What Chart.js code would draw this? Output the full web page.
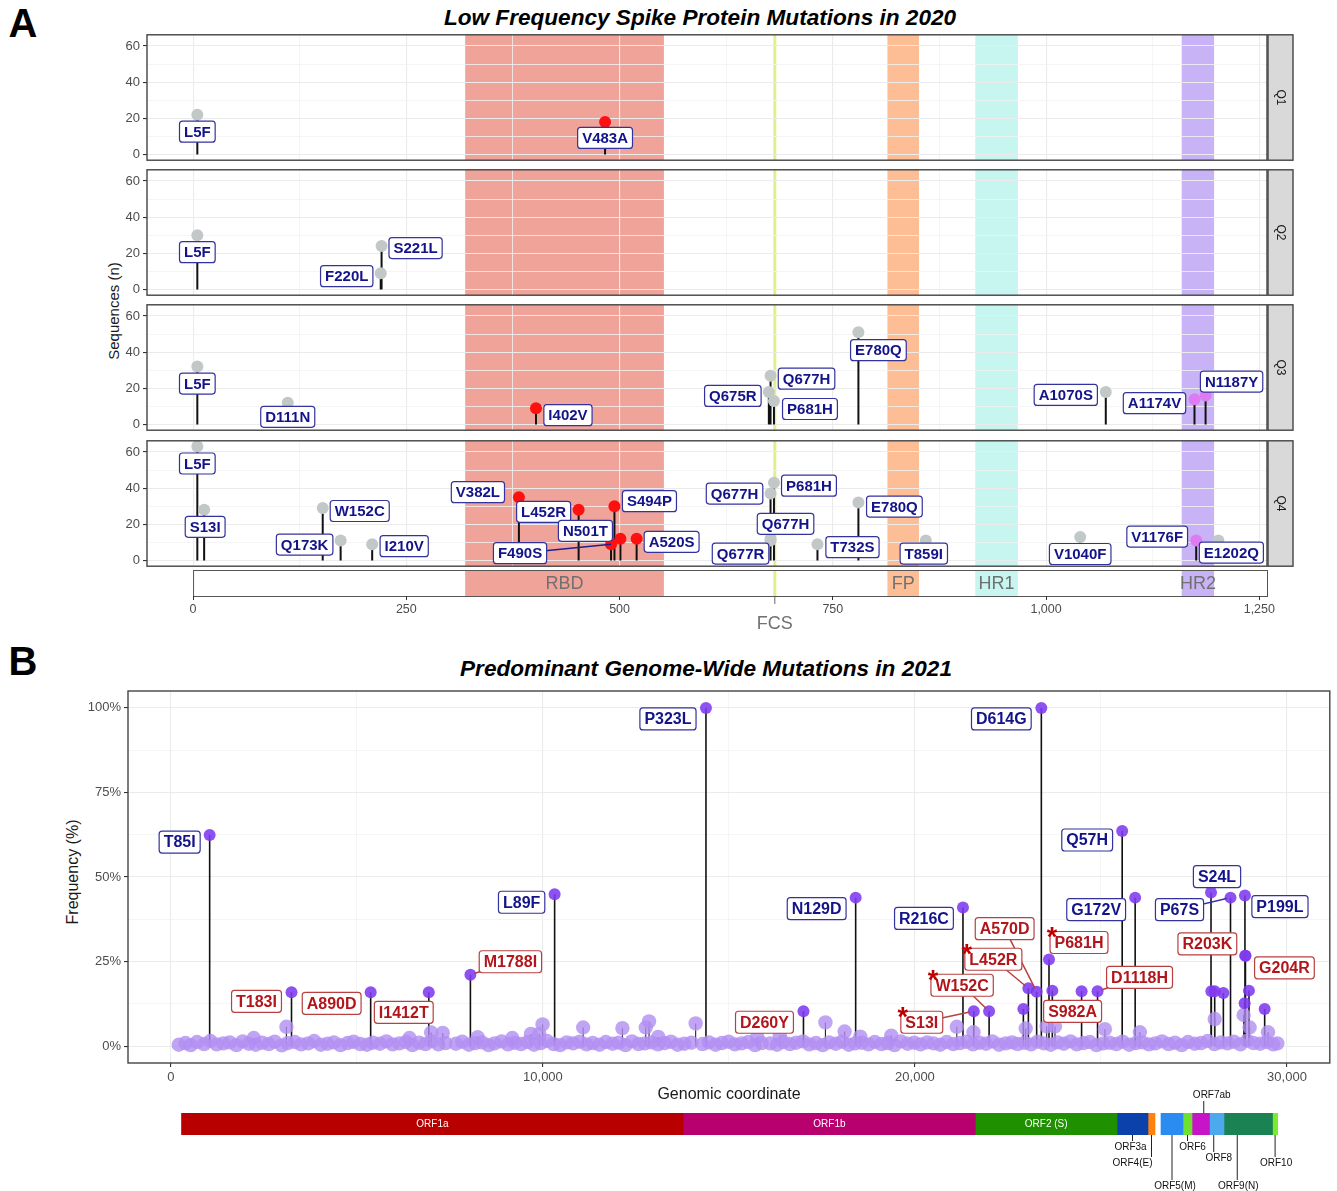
<!DOCTYPE html>
<html>
<head>
<meta charset="utf-8">
<title>Spike and genome-wide mutations</title>
<script src="https://cdn.jsdelivr.net/npm/chart.js@4.4.1/dist/chart.umd.min.js"></script>
<style>
  html, body { margin: 0; padding: 0; background: #fff; overflow: hidden; }
  #fig { position: relative; width: 1337px; height: 1191px; background: #fff;
         font-family: "Liberation Sans", Arial, Helvetica, sans-serif; }
  #fig canvas { position: absolute; }
  .txt { position: absolute; white-space: nowrap; color: #1a1a1a; transform: translate(-50%, -50%); line-height: 1; }
  .rot { transform: translate(-50%, -50%) rotate(-90deg); }
  .letter { font-size: 40px; font-weight: bold; color: #000; }
  .ptitle { font-size: 22.6px; font-weight: bold; font-style: italic; color: #000; }
  .atitle { font-size: 15px; color: #1a1a1a; }
</style>
</head>
<body>
<div id="fig">
  <div class="txt letter" style="left:23px; top:23px;">A</div>
  <div class="txt ptitle" style="left:700px; top:18px;">Low Frequency Spike Protein Mutations in 2020</div>
  <div class="txt atitle rot" style="left:113px; top:311px;">Sequences (n)</div>

  <canvas id="q1" width="1200" height="147" style="left:100px; top:24px;"></canvas>
  <canvas id="q2" width="1200" height="147" style="left:100px; top:159px;"></canvas>
  <canvas id="q3" width="1200" height="147" style="left:100px; top:294px;"></canvas>
  <canvas id="q4" width="1200" height="147" style="left:100px; top:430px;"></canvas>
  <canvas id="domains" width="1200" height="80" style="left:100px; top:560px;"></canvas>

  <div class="txt letter" style="left:23px; top:661px;">B</div>
  <div class="txt ptitle" style="left:706px; top:669px;">Predominant Genome-Wide Mutations in 2021</div>
  <div class="txt atitle rot" style="left:73px; top:872px; font-size:16px;">Frequency (%)</div>
  <canvas id="genome" width="1337" height="410" style="left:0px; top:680px;"></canvas>
  <div class="txt atitle" style="left:729px; top:1094px; font-size:16px;">Genomic coordinate</div>
  <canvas id="orfs" width="1337" height="106" style="left:0px; top:1085px;"></canvas>
</div>

<script>
// ---------------------------------------------------------------
// Panel A: low-frequency spike mutations per quarter of 2020
// (residue position, number of sequences)
// ---------------------------------------------------------------
const quarters = ['Q1', 'Q2', 'Q3', 'Q4'];

const q1Mut   = ['L5F', 'V483A'];
const q1Pos   = [5, 483];
const q1Count = [22, 18];

const q2Mut   = ['L5F', 'F220L', 'S221L'];
const q2Pos   = [5, 220, 221];
const q2Count = [30, 9, 24];

const q3Mut   = ['L5F', 'D111N', 'I402V', 'Q675R', 'Q677H', 'P681H', 'E780Q', 'A1070S', 'A1174V', 'N1187Y'];
const q3Pos   = [5, 111, 402, 675, 677, 681, 780, 1070, 1174, 1187];
const q3Count = [32, 12, 9, 18, 27, 13, 51, 18, 14, 16];

const q4Mut   = ['L5F', 'S13I', 'W152C', 'Q173K', 'I210V', 'V382L', 'L452R', 'F490S', 'S494P', 'N501T', 'A520S',
                 'Q677H', 'Q677H', 'Q677R', 'P681H', 'T732S', 'E780Q', 'T859I', 'V1040F', 'V1176F', 'E1202Q'];
const q4Pos   = [5, 13, 152, 173, 210, 382, 452, 490, 494, 501, 520,
                 677, 677, 677, 681, 732, 780, 859, 1040, 1176, 1202];
const q4Count = [63, 28, 29, 11, 9, 35, 28, 9, 30, 12, 12,
                 37, 12, 11, 43, 9, 32, 11, 13, 11, 11];

// spike protein domains (residue ranges)
const domainNames = ['RBD', 'FCS', 'FP', 'HR1', 'HR2'];
const domainStart = [319, 681, 814, 917, 1159];
const domainEnd   = [552, 683, 851, 967, 1197];

// axis ticks
const spikeTicks = [0, 250, 500, 750, 1000, 1250];
const countTicks = [0, 20, 40, 60];

// ---------------------------------------------------------------
// Panel B: predominant genome-wide mutations in 2021
// (genomic coordinate, frequency in %)
// ---------------------------------------------------------------
const genomeMut  = ['T85I', 'T183I', 'A890D', 'I1412T', 'M1788I', 'L89F', 'P323L', 'D260Y', 'N129D', 'R216C',
                    'S13I', 'W152C', 'L452R', 'A570D', 'D614G', 'P681H', 'S982A', 'D1118H', 'Q57H', 'G172V',
                    'S24L', 'P67S', 'P199L', 'R203K', 'G204R'];
const genomePos  = [1041, 3241, 5369, 6931, 8050, 10314, 14382, 17003, 18406, 21290,
                    21581, 21993, 23048, 23271, 23397, 23603, 24479, 24908, 25570, 25919,
                    27958, 28482, 28870, 28881, 28883];
const genomeFreq = [62.4, 15.9, 15.9, 15.9, 21.1, 44.9, 100, 10.3, 43.9, 41.0,
                    10.3, 10.3, 17.1, 16.1, 100, 25.6, 16.2, 16.2, 63.6, 43.9,
                    45.4, 43.9, 44.5, 26.7, 26.7];
// 'known' = established lineage mutations, 'new' = newly emerging
const genomeKind = ['known', 'new', 'new', 'new', 'new', 'known', 'known', 'new', 'known', 'known',
                    'new', 'new', 'new', 'new', 'known', 'new', 'new', 'new', 'known', 'known',
                    'known', 'known', 'known', 'new', 'new'];
// spike mutations of interest (starred)
const starred = ['S13I', 'W152C', 'L452R', 'P681H'];

// other frequent, unlabelled mutations
const otherPos  = [22914, 23692, 27967, 28057, 28290, 28862, 28978, 29400];
const otherFreq = [11.0, 16.4, 16.2, 16.2, 15.7, 12.7, 16.4, 11.0];

// low-frequency mutations rising above the background
const lowPos  = [2227, 3104, 6413, 6994, 7306, 8246, 9176, 9677, 9900, 9990, 11081, 12136, 12763, 12852, 13100,
                 14105, 15760, 16367, 17593, 18110, 18530, 19363, 21125, 21573, 22977, 23540, 23764, 25106, 26045,
                 28057, 28835, 28996, 29490];
const lowFreq = [2.4, 5.7, 2.4, 4.0, 3.9, 2.6, 2.4, 3.6, 3.6, 6.4, 5.5, 5.3, 5.5, 7.3, 2.7,
                 6.7, 2.7, 3.1, 7.0, 4.3, 2.8, 3.1, 5.7, 4.1, 5.2, 5.8, 5.8, 5.0, 4.1,
                 8.0, 9.2, 5.5, 4.1];

// background of rare mutations along the genome
const bgPos = [
  210, 390, 530, 700, 890, 1060, 1230, 1410, 1580, 1760, 1930, 2090, 2280, 2450, 2630, 2790, 2980, 3140, 3330, 3500,
  3690, 3850, 4030, 4210, 4380, 4560, 4750, 4910, 5090, 5270, 5430, 5620, 5790, 5960, 6140, 6320, 6490, 6670, 6840, 7010,
  7190, 7380,
  7660, 7830, 8010, 8180, 8360, 8540, 8700, 8890, 9060, 9240, 9410, 9590, 9760, 9940, 10110, 10290, 10460, 10640, 10810, 10990,
  11170, 11340, 11520, 11690, 11870, 12040, 12220, 12390, 12570, 12740, 12920, 13090, 13270, 13440, 13620, 13800, 13990,
  14290, 14460, 14640, 14810, 14990, 15160, 15340, 15520, 15700, 15880,
  16110, 16290, 16460, 16640, 16810, 16990, 17160, 17340, 17520, 17690, 17870, 18040, 18220, 18390, 18570, 18750, 18920, 19100,
  19270, 19450, 19620, 19800, 19980, 20150, 20330, 20500, 20680, 20850, 21030, 21210, 21380, 21560, 21730, 21910, 22080, 22260,
  22440, 22610, 22760,
  22950, 23120, 23300, 23470, 23650, 23830, 24000, 24180, 24350, 24530, 24700, 24880, 25060, 25230, 25410, 25580, 25760, 25940,
  26110, 26290, 26460, 26640, 26820, 26990, 27170, 27340, 27520, 27690, 27870, 28050, 28220, 28400, 28570, 28750, 28930, 29100,
  29280, 29450, 29630, 29740
];
const bgFreq = [
  0.4, 0.9, 0.3, 1.2, 0.6, 1.5, 0.5, 0.8, 1.1, 0.3, 1.4, 0.7, 0.4, 1.0, 0.6, 1.3, 0.2, 0.9, 1.2, 0.5,
  0.8, 1.5, 0.4, 0.7, 1.1, 0.3, 0.9, 1.3, 0.6, 0.4, 1.0, 0.7, 1.4, 0.5, 0.8, 1.2, 0.3, 1.0, 0.6, 1.4,
  0.5, 0.9,
  0.7, 1.3, 0.4, 0.9, 1.1, 0.3, 0.8, 1.4, 0.5, 1.0, 0.6, 1.2, 0.4, 0.9, 1.5, 0.6, 0.3, 1.1, 0.8, 1.3,
  0.5, 0.9, 0.4, 1.2, 0.7, 1.0, 0.3, 1.4, 0.6, 0.8, 1.1, 0.5, 0.9, 1.3, 0.4, 0.7, 1.0,
  0.6, 1.1, 0.4, 0.9, 1.3, 0.5, 0.8, 1.2, 0.3, 0.9,
  0.8, 0.4, 1.2, 0.6, 1.0, 1.4, 0.5, 0.9, 0.3, 1.1, 0.7, 1.3, 0.4, 0.8, 1.0, 0.5, 1.2, 0.6,
  0.9, 0.3, 1.4, 0.7, 1.0, 0.5, 1.1, 0.8, 0.4, 1.2, 0.6, 0.9, 1.3, 0.5, 1.0, 0.7, 1.4, 0.4,
  0.8, 1.1, 0.6,
  1.0, 0.5, 1.3, 0.8, 0.4, 1.1, 0.7, 1.4, 0.5, 0.9, 1.2, 0.3, 0.8, 1.0, 0.6, 1.3, 0.4, 0.9,
  1.1, 0.5, 0.8, 1.4, 0.6, 1.0, 0.3, 1.2, 0.7, 0.9, 1.5, 0.6, 1.1, 0.8, 1.3, 0.5, 1.6, 0.9,
  0.7, 1.2, 0.5, 0.8
];

const genomeTicks = [0, 10000, 20000, 30000];
const freqTicks   = [0, 25, 50, 75, 100];

// SARS-CoV-2 open reading frames (genomic start / end)
const orfNames = ['ORF1a', 'ORF1b', 'ORF2 (S)', 'ORF3a', 'ORF4(E)', 'ORF5(M)', 'ORF6', 'ORF7ab', 'ORF8', 'ORF9(N)', 'ORF10'];
const orfStart = [282, 13748, 21583, 25382, 26214, 26563, 27153, 27395, 27864, 28253, 29555];
const orfEnd   = [13748, 21583, 25382, 26214, 26402, 27153, 27395, 27864, 28253, 29555, 29694];

// ---------------------------------------------------------------
// styling and label placement
// ---------------------------------------------------------------
const FONT = '"Liberation Sans", Arial, Helvetica, sans-serif';
const NARROW = '"Liberation Sans Narrow", "Arial Narrow", "Liberation Sans", Arial, sans-serif';

const domainColors = ['#F0A399', '#E2F08A', '#FDBE95', '#C7F6F1', '#C8B3F6'];
const orfColors = ['#B80000', '#B8006E', '#1F9100', '#0B41AA', '#FF820F', '#2A8CF0', '#6EE032',
                   '#C814C8', '#4CA9EE', '#1B8254', '#7AEB2A'];
const GRAY_PT = '#C2C8C8', RED_PT = '#FF1010', PINK_PT = '#DF7BF2';

const X_MIN_A = -54, X_MAX_A = 1259;
const Y_MIN_A = -3.15, Y_MAX_A = 66.15;
const X_MIN_B = -1154, X_MAX_B = 31151;
const Y_MIN_B = -5, Y_MAX_B = 105;

// label offsets in pixels from the labelled point: [dx, dy, leader line]
const tagLayoutA = [
  [[0, 17], [0, 16]],
  [[0, 17], [-34, 3], [34, 2]],
  [[0, 17], [0, 14], [32, 7], [-36, 4], [36, 3], [36, 8], [20, 18], [-40, 3], [-40, 4], [26, -14]],
  [[0, 17], [1, 17], [37, 3], [-36, 4], [32, 2], [-41, -5], [-35, 2], [-91, 9, true], [35, -5], [-35, -8], [35, 3],
   [-36, 0], [15, -15], [-30, 13], [35, 3], [35, 3], [36, 4], [-2, 13], [0, 17], [-39, -4], [13, 12]]
];
const tagLayoutB = {
  'T85I': [-30, 7], 'P323L': [-38, 11], 'L89F': [-33, 8], 'N129D': [-39, 11], 'R216C': [-39, 11],
  'D614G': [-40, 11], 'Q57H': [-35, 9], 'G172V': [-39, 12], 'S24L': [6, -16], 'P67S': [-51, 12, true],
  'P199L': [35, 11], 'T183I': [-35, 9], 'A890D': [-39, 11], 'I1412T': [-25, 20], 'M1788I': [40, -13, true],
  'D260Y': [-39, 11], 'S13I': [-52, 11, true], 'W152C': [-27, -26, true], 'L452R': [-35, -29, true],
  'A570D': [-32, -63, true], 'P681H': [30, -17], 'S982A': [-9, 20], 'D1118H': [42, -14, true],
  'R203K': [-38, -12], 'G204R': [39, 12]
};
// ORF labels outside the bar: text offset, text row, leader line end (canvas px)
const orfTagLayout = {
  'ORF3a':   { textDx: -2,  textY: 62,  lineDx: 0,   lineEnd: 56 },
  'ORF4(E)': { textDx: -19, textY: 78,  lineDx: 0,   lineEnd: 72 },
  'ORF5(M)': { textDx: 3,   textY: 101, lineDx: 0,   lineEnd: 95 },
  'ORF6':    { textDx: 5,   textY: 62,  lineDx: 0,   lineEnd: 56 },
  'ORF7ab':  { textDx: 11,  textY: 10,  lineDx: 3,   lineEnd: 16, above: true },
  'ORF8':    { textDx: 2,   textY: 73,  lineDx: -3,  lineEnd: 67 },
  'ORF9(N)': { textDx: -10, textY: 101, lineDx: -11, lineEnd: 95 },
  'ORF10':   { textDx: 1,   textY: 78,  lineDx: 0,   lineEnd: 72 }
};

const tagBlue = { font: 'bold 15px ' + FONT, color: '#13138A', border: '#3333A0', padX: 4.5, h: 21 };
const tagBlueB = { font: 'bold 16px ' + FONT, color: '#13138A', border: '#3333A0', padX: 4.5, h: 22 };
const tagRedB = { font: 'bold 16px ' + FONT, color: '#B2161B', border: '#B94040', padX: 4.5, h: 22 };

Chart.defaults.font.family = FONT;
Chart.defaults.animation = false;
Chart.defaults.plugins.legend.display = false;
Chart.defaults.plugins.tooltip.enabled = false;

// ---------------------------------------------------------------
// helpers
// ---------------------------------------------------------------
function drawTag(ctx, text, cx, cy, st) {
  ctx.save();
  ctx.font = st.font;
  const w = ctx.measureText(text).width + 2 * st.padX;
  const h = st.h;
  const x = cx - w / 2, y = cy - h / 2;
  ctx.beginPath();
  if (ctx.roundRect) ctx.roundRect(x, y, w, h, 3); else ctx.rect(x, y, w, h);
  ctx.fillStyle = '#fff';
  ctx.fill();
  ctx.lineWidth = 1.2;
  ctx.strokeStyle = st.border;
  ctx.stroke();
  ctx.fillStyle = st.color;
  ctx.textAlign = 'center';
  ctx.textBaseline = 'middle';
  ctx.fillText(text, cx, cy + 1);
  ctx.restore();
  return { x, y, w, h };
}

function leader(ctx, x1, y1, x2, y2, color, shorten) {
  const dx = x2 - x1, dy = y2 - y1, len = Math.hypot(dx, dy);
  const k = len > shorten ? (len - shorten) / len : 0;
  ctx.save();
  ctx.strokeStyle = color;
  ctx.lineWidth = 1.5;
  ctx.beginPath();
  ctx.moveTo(x1, y1);
  ctx.lineTo(x1 + dx * k, y1 + dy * k);
  ctx.stroke();
  ctx.restore();
}

function pointColor(p) {
  if (p >= domainStart[0] && p <= domainEnd[0]) return RED_PT;
  if (p >= domainStart[4] && p <= domainEnd[4]) return PINK_PT;
  return GRAY_PT;
}

function stemSeries(pos, val) {
  const out = [];
  pos.forEach((p, i) => { out.push({ x: p, y: 0 }, { x: p, y: val[i] }, { x: p, y: null }); });
  return out;
}

function drawDomainBands(chart, top, bottom) {
  const ctx = chart.ctx, xs = chart.scales.x, a = chart.chartArea;
  ctx.save();
  ctx.beginPath();
  ctx.rect(a.left, top, a.right - a.left, bottom - top);
  ctx.clip();
  domainNames.forEach((n, i) => {
    ctx.fillStyle = domainColors[i];
    const x0 = xs.getPixelForValue(domainStart[i]);
    const x1 = xs.getPixelForValue(domainEnd[i]);
    if (x1 - x0 < 3) {
      const xc = (x0 + x1) / 2;
      ctx.fillRect(xc - 1.5, top, 3, bottom - top);
    } else {
      ctx.fillRect(x0, top, x1 - x0, bottom - top);
    }
  });
  ctx.restore();
}

// ---------------------------------------------------------------
// Panel A facets
// ---------------------------------------------------------------
const facetMut = [q1Mut, q2Mut, q3Mut, q4Mut];
const facetPos = [q1Pos, q2Pos, q3Pos, q4Pos];
const facetCount = [q1Count, q2Count, q3Count, q4Count];

const facetPlugin = {
  id: 'facetDecor',
  beforeDraw(chart) {
    const a = chart.chartArea;
    drawDomainBands(chart, a.top, a.bottom);
  },
  afterDatasetsDraw(chart) {
    const qi = chart.options.plugins.facetDecor.quarter;
    const ctx = chart.ctx, xs = chart.scales.x, ys = chart.scales.y;
    facetMut[qi].forEach((name, i) => {
      const px = xs.getPixelForValue(facetPos[qi][i]);
      const py = ys.getPixelForValue(facetCount[qi][i]);
      const off = tagLayoutA[qi][i];
      const cx = px + off[0], cy = py + off[1];
      if (off[2]) leader(ctx, cx, cy, px, py, '#1E1E90', 0);
    });
    facetMut[qi].forEach((name, i) => {
      const px = xs.getPixelForValue(facetPos[qi][i]);
      const py = ys.getPixelForValue(facetCount[qi][i]);
      const off = tagLayoutA[qi][i];
      drawTag(ctx, name, px + off[0], py + off[1], tagBlue);
    });
  },
  afterDraw(chart) {
    const qi = chart.options.plugins.facetDecor.quarter;
    const ctx = chart.ctx, a = chart.chartArea;
    ctx.save();
    ctx.strokeStyle = '#444';
    ctx.lineWidth = 1.4;
    ctx.strokeRect(a.left, a.top, a.right - a.left, a.bottom - a.top);
    // facet strip
    const sx = a.right + 1, sw = 25;
    ctx.fillStyle = '#D9D9D9';
    ctx.fillRect(sx, a.top, sw, a.bottom - a.top);
    ctx.strokeRect(sx, a.top, sw, a.bottom - a.top);
    ctx.translate(sx + sw / 2, (a.top + a.bottom) / 2);
    ctx.rotate(Math.PI / 2);
    ctx.fillStyle = '#1a1a1a';
    ctx.font = '12px ' + FONT;
    ctx.textAlign = 'center';
    ctx.textBaseline = 'middle';
    ctx.fillText(quarters[qi], 0, 0);
    ctx.restore();
  }
};

function makeFacet(id, qi) {
  const pos = facetPos[qi], cnt = facetCount[qi];
  return new Chart(document.getElementById(id), {
    type: 'scatter',
    data: {
      datasets: [
        { data: pos.map((p, i) => ({ x: p, y: cnt[i] })), pointRadius: 6, pointBorderWidth: 0,
          pointBackgroundColor: pos.map(pointColor), order: 0 },
        { data: stemSeries(pos, cnt), showLine: true, spanGaps: false, borderColor: '#111', borderWidth: 2,
          pointRadius: 0, order: 1 }
      ]
    },
    options: {
      responsive: false, devicePixelRatio: 1, events: [],
      layout: { padding: { left: 0, right: 33, top: 10, bottom: 10 } },
      plugins: { facetDecor: { quarter: qi } },
      scales: {
        x: {
          type: 'linear', min: X_MIN_A, max: X_MAX_A,
          afterBuildTicks: s => {
            const t = [];
            spikeTicks.forEach((v, i) => { t.push({ value: v }); if (i < spikeTicks.length - 1) t.push({ value: (v + spikeTicks[i + 1]) / 2 }); });
            s.ticks = t;
          },
          afterFit: s => { s.height = 0; },
          ticks: { display: false },
          border: { display: false },
          grid: {
            drawTicks: false,
            color: c => (c.tick && spikeTicks.includes(c.tick.value)) ? '#EBEBEB' : '#F3F3F3',
            lineWidth: c => (c.tick && spikeTicks.includes(c.tick.value)) ? 1.1 : 0.8
          }
        },
        y: {
          type: 'linear', min: Y_MIN_A, max: Y_MAX_A,
          afterBuildTicks: s => {
            const t = [];
            countTicks.forEach((v, i) => { t.push({ value: v }); if (i < countTicks.length - 1) t.push({ value: (v + countTicks[i + 1]) / 2 }); });
            s.ticks = t;
          },
          afterFit: s => { s.width = 47; },
          border: { display: false },
          ticks: { color: '#4D4D4D', font: { size: 13 }, padding: 3, autoSkip: false,
                   callback: v => countTicks.includes(v) ? String(v) : '' },
          grid: {
            tickLength: 4,
            color: c => (c.tick && countTicks.includes(c.tick.value)) ? '#EBEBEB' : '#F3F3F3',
            lineWidth: c => (c.tick && countTicks.includes(c.tick.value)) ? 1.1 : 0.8,
            tickColor: c => (c.tick && countTicks.includes(c.tick.value)) ? '#333' : 'rgba(0,0,0,0)'
          }
        }
      }
    },
    plugins: [facetPlugin]
  });
}

makeFacet('q1', 0);
makeFacet('q2', 1);
makeFacet('q3', 2);
makeFacet('q4', 3);

// domain annotation bar with the shared residue axis
const domainPlugin = {
  id: 'domainBar',
  beforeDraw(chart) {
    const ctx = chart.ctx, a = chart.chartArea, xs = chart.scales.x;
    const x0 = xs.getPixelForValue(0);
    ctx.save();
    ctx.fillStyle = '#fff';
    ctx.fillRect(x0, a.top, a.right - x0, a.bottom - a.top);
    ctx.restore();
    drawDomainBands(chart, a.top, a.bottom);
    ctx.save();
    ctx.strokeStyle = '#555';
    ctx.lineWidth = 1;
    ctx.strokeRect(x0 + 0.5, a.top + 0.5, a.right - x0, a.bottom - a.top);
    ctx.fillStyle = '#707070';
    ctx.font = '18px ' + FONT;
    ctx.textAlign = 'center';
    ctx.textBaseline = 'middle';
    domainNames.forEach((n, i) => {
      const xc = xs.getPixelForValue((domainStart[i] + domainEnd[i]) / 2);
      if (n === 'FCS') {
        ctx.strokeStyle = '#666';
        ctx.beginPath();
        ctx.moveTo(xc, a.bottom + 1);
        ctx.lineTo(xc, a.bottom + 8);
        ctx.stroke();
        ctx.fillText(n, xc, a.bottom + 28);
      } else {
        ctx.fillText(n, xc, (a.top + a.bottom) / 2 + 1);
      }
    });
    ctx.restore();
  }
};

new Chart(document.getElementById('domains'), {
  type: 'scatter',
  data: { datasets: [{ data: [] }] },
  options: {
    responsive: false, devicePixelRatio: 1, events: [],
    layout: { padding: { left: 47, right: 33, top: 10, bottom: 0 } },
    scales: {
      x: {
        type: 'linear', min: X_MIN_A, max: X_MAX_A,
        afterBuildTicks: s => { s.ticks = spikeTicks.map(v => ({ value: v })); },
        afterFit: s => { s.height = 44; },
        border: { display: false },
        grid: { drawOnChartArea: false, tickLength: 4, tickColor: '#333' },
        ticks: { color: '#4D4D4D', font: { size: 12.5 }, padding: 2, autoSkip: false, maxRotation: 0,
                 callback: v => v.toLocaleString('en-US') }
      },
      y: { display: false, min: 0, max: 1 }
    }
  },
  plugins: [domainPlugin]
});

// ---------------------------------------------------------------
// Panel B
// ---------------------------------------------------------------
const genomePlugin = {
  id: 'genomeDecor',
  afterDatasetsDraw(chart) {
    const ctx = chart.ctx, xs = chart.scales.x, ys = chart.scales.y;
    const placed = genomeMut.map((name, i) => {
      const px = xs.getPixelForValue(genomePos[i]);
      const py = ys.getPixelForValue(genomeFreq[i]);
      const off = tagLayoutB[name];
      return { name, px, py, cx: px + off[0], cy: py + off[1], line: !!off[2],
               st: genomeKind[i] === 'known' ? tagBlueB : tagRedB };
    });
    placed.forEach(p => { if (p.line) leader(ctx, p.cx, p.cy, p.px, p.py, p.st.border, 4); });
    placed.forEach(p => {
      const box = drawTag(ctx, p.name, p.cx, p.cy, p.st);
      if (starred.includes(p.name)) {
        ctx.save();
        ctx.fillStyle = '#C00000';
        ctx.font = 'bold 27px ' + FONT;
        ctx.textAlign = 'center';
        ctx.textBaseline = 'middle';
        ctx.fillText('*', box.x + 2, box.y + 7);
        ctx.restore();
      }
    });
  },
  afterDraw(chart) {
    const ctx = chart.ctx, a = chart.chartArea;
    ctx.save();
    ctx.strokeStyle = '#444';
    ctx.lineWidth = 1.4;
    ctx.strokeRect(a.left, a.top, a.right - a.left, a.bottom - a.top);
    ctx.restore();
  }
};

const purplePos = genomePos.concat(otherPos);
const purpleFreq = genomeFreq.concat(otherFreq);
const lightPos = bgPos.concat(lowPos);
const lightFreq = bgFreq.concat(lowFreq);
const freqGrid = [0, 12.5, 25, 37.5, 50, 62.5, 75, 87.5, 100];
const genomeGrid = [0, 5000, 10000, 15000, 20000, 25000, 30000];

new Chart(document.getElementById('genome'), {
  type: 'scatter',
  data: {
    datasets: [
      { data: purplePos.map((p, i) => ({ x: p, y: purpleFreq[i] })), pointRadius: 6, pointBorderWidth: 0,
        pointBackgroundColor: 'rgba(128,58,240,0.88)', order: 0 },
      { data: lightPos.map((p, i) => ({ x: p, y: lightFreq[i] })), pointRadius: 7.2,
        pointBorderWidth: 0, pointBackgroundColor: 'rgba(178,142,243,0.8)', order: 1 },
      { data: stemSeries(lowPos, lowFreq), showLine: true, spanGaps: false, borderColor: '#222', borderWidth: 1.1,
        pointRadius: 0, order: 2 },
      { data: stemSeries(purplePos, purpleFreq), showLine: true, spanGaps: false, borderColor: '#111', borderWidth: 1.6,
        pointRadius: 0, order: 3 }
    ]
  },
  options: {
    responsive: false, devicePixelRatio: 1, events: [],
    layout: { padding: { left: 0, right: 5, top: 11, bottom: 0 } },
    scales: {
      x: {
        type: 'linear', min: X_MIN_B, max: X_MAX_B,
        afterBuildTicks: s => { s.ticks = genomeGrid.map(v => ({ value: v })); },
        afterFit: s => { s.height = 27; },
        border: { display: false },
        grid: {
          tickLength: 4,
          color: c => (c.tick && genomeTicks.includes(c.tick.value)) ? '#EBEBEB' : '#F3F3F3',
          lineWidth: c => (c.tick && genomeTicks.includes(c.tick.value)) ? 1.1 : 0.8,
          tickColor: c => (c.tick && genomeTicks.includes(c.tick.value)) ? '#333' : 'rgba(0,0,0,0)'
        },
        ticks: { color: '#4D4D4D', font: { size: 13 }, padding: 3, autoSkip: false, maxRotation: 0,
                 callback: v => genomeTicks.includes(v) ? v.toLocaleString('en-US') : '' }
      },
      y: {
        type: 'linear', min: Y_MIN_B, max: Y_MAX_B,
        afterBuildTicks: s => { s.ticks = freqGrid.map(v => ({ value: v })); },
        afterFit: s => { s.width = 128; },
        border: { display: false },
        grid: {
          tickLength: 4,
          color: c => (c.tick && freqTicks.includes(c.tick.value)) ? '#EBEBEB' : '#F3F3F3',
          lineWidth: c => (c.tick && freqTicks.includes(c.tick.value)) ? 1.1 : 0.8,
          tickColor: c => (c.tick && freqTicks.includes(c.tick.value)) ? '#333' : 'rgba(0,0,0,0)'
        },
        ticks: { color: '#4D4D4D', font: { size: 13 }, padding: 3, autoSkip: false,
                 callback: v => freqTicks.includes(v) ? v + '%' : '' }
      }
    }
  },
  plugins: [genomePlugin]
});

// genome map of open reading frames
const orfPlugin = {
  id: 'orfLabels',
  afterDatasetsDraw(chart) {
    const ctx = chart.ctx, xs = chart.scales.x, a = chart.chartArea;
    ctx.save();
    ctx.textAlign = 'center';
    ctx.textBaseline = 'middle';
    orfNames.forEach((n, i) => {
      const xm = xs.getPixelForValue((orfStart[i] + orfEnd[i]) / 2);
      const lay = orfTagLayout[n];
      if (!lay) {
        ctx.fillStyle = '#fff';
        ctx.font = '10px ' + NARROW;
        ctx.fillText(n, xm, (a.top + a.bottom) / 2 + 0.5);
        return;
      }
      const lx = xm + lay.lineDx;
      ctx.strokeStyle = '#222';
      ctx.lineWidth = 1;
      ctx.beginPath();
      ctx.moveTo(lx, lay.above ? a.top : a.bottom);
      ctx.lineTo(lx, lay.lineEnd);
      ctx.stroke();
      ctx.fillStyle = '#111';
      ctx.font = '10px ' + NARROW;
      ctx.fillText(n, xm + lay.textDx, lay.textY);
    });
    ctx.restore();
  }
};

new Chart(document.getElementById('orfs'), {
  type: 'bar',
  data: {
    labels: ['genome'],
    datasets: orfNames.map((n, i) => ({
      label: n, data: [[orfStart[i], orfEnd[i]]], backgroundColor: orfColors[i],
      borderWidth: 0, grouped: false, barPercentage: 1, categoryPercentage: 1
    }))
  },
  options: {
    indexAxis: 'y', responsive: false, devicePixelRatio: 1, events: [],
    layout: { padding: { left: 128, right: 5, top: 28, bottom: 56 } },
    scales: {
      x: { type: 'linear', min: X_MIN_B, max: X_MAX_B, display: false },
      y: { display: false }
    }
  },
  plugins: [orfPlugin]
});
</script>
</body>
</html>
